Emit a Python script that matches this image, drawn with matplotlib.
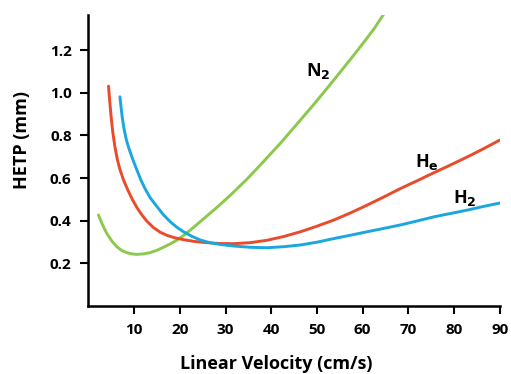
import matplotlib
matplotlib.use("Agg")
import matplotlib.pyplot as plt

# values
n2_x = [2.2, 3.1, 4.0, 5.1, 6.2, 7.3, 8.4, 9.5, 10.6, 12.0, 13.5, 15.0, 16.4, 17.9,
        19.4, 20.8, 22.3, 25.0, 28.0, 31.0, 34.7, 38.0, 42.0, 45.5, 49.3, 52.0,
        55.2, 58.0, 60.3, 62.5, 64.7]
n2_y = [0.427, 0.38, 0.341, 0.305, 0.278, 0.26, 0.25, 0.244, 0.242, 0.244, 0.25,
        0.261, 0.275, 0.291, 0.309, 0.33, 0.356, 0.405, 0.46, 0.518, 0.595, 0.67,
        0.763, 0.85, 0.945, 1.015, 1.10, 1.175, 1.238, 1.30, 1.372]

he_x = [4.4, 4.65, 4.9, 5.3, 5.8, 6.3, 6.9, 7.7, 8.6, 9.6, 10.6, 11.6, 12.7, 14.2,
        15.7, 17.2, 19.0, 20.8, 23.0, 25.2, 28.5, 31.8, 35.5, 39.1, 42.8, 46.4,
        50.0, 53.7, 57.4, 61.0, 64.7, 68.3, 72.0, 75.6, 79.3, 83.0, 86.5, 90.0]
he_y = [1.031, 0.965, 0.903, 0.82, 0.747, 0.69, 0.64, 0.59, 0.545, 0.50, 0.462,
        0.43, 0.40, 0.368, 0.346, 0.331, 0.319, 0.311, 0.303, 0.298, 0.293, 0.292,
        0.297, 0.308, 0.326, 0.348, 0.374, 0.403, 0.437, 0.473, 0.512, 0.551,
        0.588, 0.625, 0.662, 0.70, 0.738, 0.778]

h2_x = [6.9, 7.1, 7.4, 7.8, 8.3, 8.8, 9.7, 10.6, 11.5, 12.4, 13.5, 15.0, 16.4,
        17.9, 19.3, 20.8, 22.6, 24.5, 26.7, 29.0, 31.8, 35.5, 39.1, 42.8, 46.4,
        50.0, 53.7, 57.4, 61.0, 64.7, 68.3, 72.0, 75.6, 79.3, 83.0, 86.5, 90.3]
h2_y = [0.981, 0.94, 0.885, 0.83, 0.78, 0.743, 0.688, 0.638, 0.59, 0.55, 0.508,
        0.466, 0.428, 0.395, 0.37, 0.348, 0.327, 0.309, 0.296, 0.288, 0.281, 0.275,
        0.273, 0.278, 0.286, 0.299, 0.316, 0.332, 0.348, 0.364, 0.38, 0.399,
        0.418, 0.434, 0.45, 0.467, 0.484]

x_ticks = [10, 20, 30, 40, 50, 60, 70, 80, 90]
y_ticks = [0.2, 0.4, 0.6, 0.8, 1.0, 1.2]

plt.rcParams['font.family'] = ['Open Sans', 'DejaVu Sans']
plt.rcParams['font.weight'] = 'bold'
plt.rcParams['mathtext.default'] = 'bf'

fig = plt.figure(figsize=(5.11, 3.74), dpi=100)
ax = fig.add_axes([0.173, 0.182, 0.805, 0.778])

style = dict(lw=2.1, solid_capstyle='round', solid_joinstyle='round')
ax.plot(n2_x, n2_y, color='#8cc84b', **style)
ax.plot(he_x, he_y, color='#e94b2b', **style)
ax.plot(h2_x, h2_y, color='#1aa7e0', **style)

ax.text(50.4, 1.10, r'N$_\mathbf{2}$', fontsize=13, fontweight='bold', ha='center', va='center')
ax.text(74.1, 0.675, r'H$_\mathbf{e}$', fontsize=13, fontweight='bold', ha='center', va='center')
ax.text(82.3, 0.506, r'H$_\mathbf{2}$', fontsize=13, fontweight='bold', ha='center', va='center')

ax.set_xlim(0, 90)
ax.set_ylim(0, 1.365)
ax.set_xticks(x_ticks)
ax.set_yticks(y_ticks)
ax.set_yticklabels([f"{v:.1f}" for v in y_ticks])

for s in ['top', 'right']:
    ax.spines[s].set_visible(False)
for s in ['left', 'bottom']:
    ax.spines[s].set_linewidth(1.8)
ax.tick_params(direction='out', length=6, width=1.5, labelsize=11, pad=6)

ax.set_xlabel('Linear Velocity (cm/s)', fontsize=13, fontweight='bold')
ax.set_ylabel('HETP (mm)', fontsize=13, fontweight='bold')
ax.xaxis.set_label_coords(0.457, -0.17)
ax.yaxis.set_label_coords(-0.14, 0.57)

fig.savefig('out.png', dpi=100)
